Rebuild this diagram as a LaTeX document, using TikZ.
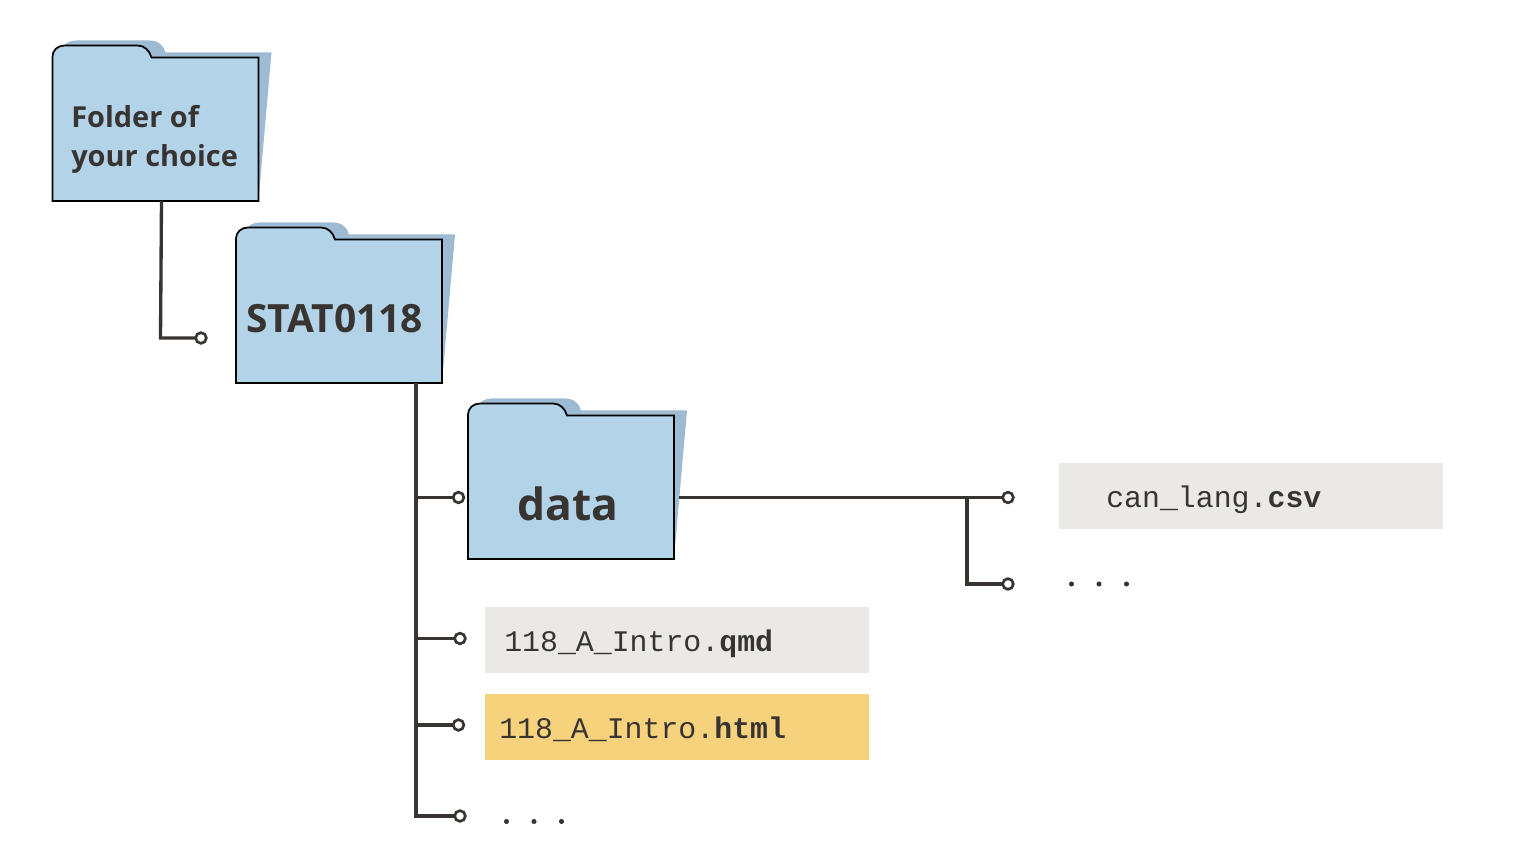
\documentclass[tikz,border=0pt]{standalone}
\usepackage{fontspec}
\setmainfont{Open Sans}
\newfontfamily\codefont{Liberation Mono}
\usetikzlibrary{calc}
\definecolor{ink}{HTML}{383432}
\definecolor{folderfill}{HTML}{B3D3E8}
\definecolor{folderback}{HTML}{9DBBD3}
\definecolor{filegrey}{HTML}{EBE9E5}
\definecolor{fileyellow}{HTML}{F7D27C}
\tikzset{
  x=0.75pt,y=-0.75pt,
  folderbody/.style={minimum width=154.5pt,minimum height=108pt,inner sep=0pt,outer sep=0pt},
  foldertext/.style={text=ink,font=\bfseries,anchor=west,inner sep=0pt},
  filebox/.style={minimum width=288pt,minimum height=49.5pt,inner sep=0pt,outer sep=0pt,anchor=north west},
  filetext/.style={text=ink,font=\codefont\fontsize{22.4}{26}\selectfont,anchor=base west,inner sep=0pt},
  link/.style={draw=ink,line width=2.5pt},
  enddot/.style={circle,draw=ink,fill=white,line width=2pt,minimum size=8pt,inner sep=0pt,outer sep=0pt},
  elldot/.style={circle,fill=ink,minimum size=3.8pt,inner sep=0pt,outer sep=0pt},
}
% #1 name, #2 left, #3 body top
\newcommand{\myfolder}[3]{%
  \node[folderbody,anchor=north west] (#1) at (#2,#3) {};
  \fill[folderback,shift={(#2,#3)}]
    (12,-12) .. controls (14,-15) and (18,-17) .. (24,-17) -- (97,-17) .. controls (106,-17) and (111,-12) .. (113,-5) -- (219,-5) -- (206,143) -- (15,143) -- cycle;
  \draw[fill=folderfill,draw=black,line width=1.3pt,line join=miter,shift={(#2,#3)}]
    (0,143.5) -- (0,-1) .. controls (0,-7) and (5,-12) .. (12,-12) -- (85,-12)
    .. controls (92,-12) and (97,-7) .. (99,0) -- (206,0) -- (206,143.5) -- cycle;
}
\begin{document}
\begin{tikzpicture}
\useasboundingbox (0,0) rectangle (1518,862);
\node[enddot] (d1) at (201,338) {};
\node[enddot] (d2) at (458.5,497.5) {};
\node[enddot] (d3) at (460,638.5) {};
\node[enddot] (d4) at (458.5,725) {};
\node[enddot] (d5) at (460,816) {};
\node[enddot] (d6) at (1008,497.5) {};
\node[enddot] (d7) at (1008,584) {};
\coordinate (t1) at (161.5,201);
\coordinate (t2) at (416,383);
\coordinate (t3) at (679,497.5);
\coordinate (j3) at (967,497.5);
\coordinate (j1) at (416,497.5);
\coordinate (j2) at (416,638.5);
\coordinate (j4) at (416,725);
\coordinate (j5) at (416,816);

\myfolder{f1}{52.5}{57.5}
\myfolder{f2}{236}{239.5}
\myfolder{f3}{468}{415.5}

\draw[link,line join=miter] (t1) -- (160.5,338) -- (d1.west);
\draw[link,line join=miter] (t2) -- (j5) -- (d5.west);
\draw[link] (j1) -- (d2.west);
\draw[link] (j2) -- (d3.west);
\draw[link] (j4) -- (d4.west);
\draw[link] (t3) -- (d6.west);
\draw[link,line join=miter] (j3) |- (d7.west);

\node[foldertext,font=\bfseries\fontsize{21.7}{26}\selectfont] (l1a) at (71,116.5) {Folder of};
\node[foldertext,font=\bfseries\fontsize{21.7}{26}\selectfont] (l1b) at (71,158.5) {your choice};
\node[foldertext,font=\bfseries\fontsize{29.2}{34}\selectfont] (l2) at (246,318.5) {STAT0118};
\node[foldertext,font=\bfseries\fontsize{33.3}{38}\selectfont] (l3) at (517.5,503.5) {data};

\node[filebox,fill=filegrey] (b1) at (1058.5,463.5) {};
\node[filebox,fill=filegrey] (b2) at (484.5,607.5) {};
\node[filebox,fill=fileyellow] (b3) at (484.5,693.5) {};
\node[filetext] (x1) at (1106,508) {can\_lang.\textbf{csv}};
\node[filetext] (x2) at (504,652) {118\_A\_Intro.\textbf{qmd}};
\node[filetext] (x3) at (499,738.5) {118\_A\_Intro.\textbf{html}};

\node[elldot] (e1) at (1071.5,584) {};
\node[elldot] (e2) at (1099,584) {};
\node[elldot] (e3) at (1126.5,584) {};
\node[elldot] (e4) at (506.5,821.5) {};
\node[elldot] (e5) at (534,821.5) {};
\node[elldot] (e6) at (561.5,821.5) {};
\end{tikzpicture}
\end{document}
